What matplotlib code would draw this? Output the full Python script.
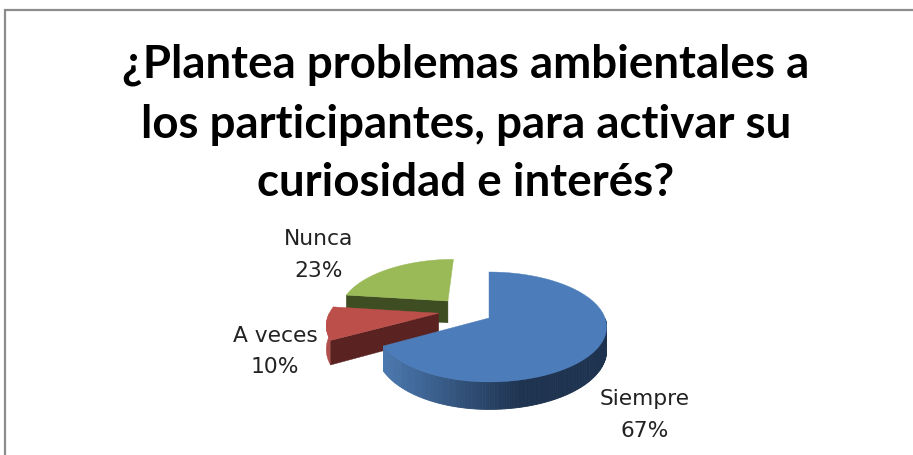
import numpy as np
import matplotlib
matplotlib.use("Agg")
import matplotlib.pyplot as plt
from matplotlib.colors import to_rgb

categories = ["Siempre", "A veces", "Nunca"]
values = [67, 10, 23]
title_lines = ["¿Plantea problemas ambientales a",
               "los participantes, para activar su",
               "curiosidad e interés?"]

top_colors = ["#4c7dba", "#bd4f4b", "#9aba58"]
cut_colors = [None, "#5a2220", "#3f4d22"]
arc_color_red = "#b04f4c"
offsets = [(0, 0), (-0.46, 0.09), (-0.39, 0.335)]
label_pos = [(644.5, 415), (275, 351.5), (319, 255)]

W, H = 913, 456
X0, Y0, A, BR, BL, K, DEPTH = 489, 319, 53.5, 116, 111, 0.163, 23

fig = plt.figure(figsize=(W / 100, H / 100), dpi=100)
ax = fig.add_axes([0, 0, 1, 1])
ax.set_xlim(0, W)
ax.set_ylim(H, 0)
ax.axis("off")


def project(u, v, z=0.0):
    u = np.asarray(u, dtype=float)
    v = np.asarray(v, dtype=float)
    s = 1 + K * v
    b = np.where(u < 0, BL, BR)
    return X0 + b * u / s, Y0 - A * v / s + z / s


fractions = np.array(values) / sum(values)
ends = 90 - 360 * np.cumsum(fractions)
starts = ends + 360 * fractions

# frame
ax.plot([4.5, 4.5, W], [H, 11, 11], color="#8c8c8c", lw=1.6,
        solid_joinstyle="miter", zorder=1)

z = 2
for i in [2, 1, 0]:
    du, dv = offsets[i]
    th = np.radians(np.linspace(starts[i], ends[i], 240))
    u = np.cos(th) + du
    v = np.sin(th) + dv
    # curved outer wall: only the front-facing part of the rim
    front = np.sin(th) <= 0
    if front.any():
        x1, y1 = project(u[front], v[front])
        x2, y2 = project(u[front], v[front], DEPTH)
        if i == 0:
            left, dark = np.array(to_rgb("#4b79b0")), np.array(to_rgb("#1e3350"))
            for j in range(len(x1) - 1):
                f = min((x1[j] - x1.min()) / (x1.max() - x1.min()) / 0.62, 1.0)
                c = left + (dark - left) * f
                ax.fill([x1[j], x1[j + 1], x2[j + 1], x2[j]],
                        [y1[j], y1[j + 1], y2[j + 1], y2[j]],
                        color=tuple(c), lw=0.6, zorder=z)
        else:
            ax.fill(np.r_[x1, x2[::-1]], np.r_[y1, y2[::-1]],
                    color=arc_color_red, lw=0.3, zorder=z)
    # lower radial cut face
    if cut_colors[i] is not None:
        t = th[0]
        us = np.array([du, np.cos(t) + du])
        vs = np.array([dv, np.sin(t) + dv])
        xa, ya = project(us, vs)
        xb, yb = project(us, vs, DEPTH)
        ax.fill(np.r_[xa, xb[::-1]], np.r_[ya, yb[::-1]], color=cut_colors[i],
                lw=0.3, zorder=z + 0.5)
    # top face
    x, y = project(np.r_[du, u], np.r_[dv, v])
    ax.fill(x, y, color=top_colors[i], lw=0.3, zorder=z + 1)
    z += 2

for name, val, (lx, ly) in zip(categories, values, label_pos):
    ax.text(lx, ly, f"{name}\n{val}%", ha="center", va="center",
            fontsize=15.7, color="#222222", family="DejaVu Sans",
            linespacing=1.7, zorder=20)

for line, ly in zip(title_lines, [65, 125, 183]):
    ax.text(466, ly, line, ha="center", va="center", fontsize=32.9,
            fontweight="bold", family="Lato", color="black", zorder=20)

fig.savefig("out.png", dpi=100, facecolor="white")
